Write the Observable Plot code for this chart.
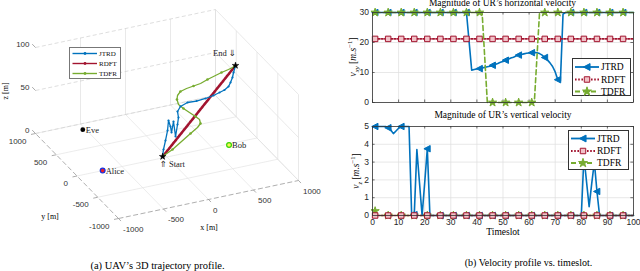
<!DOCTYPE html>
<html><head><meta charset="utf-8">
<script src="https://cdn.jsdelivr.net/npm/d3@7"></script>
<script src="https://cdn.jsdelivr.net/npm/@observablehq/plot@0.6"></script>
<style>
html,body{margin:0;padding:0;background:#fff;}
#wrap{position:relative;width:640px;height:271px;overflow:hidden;background:#fff;}
.t{position:absolute;white-space:nowrap;font-family:"Liberation Serif","DejaVu Serif",serif;color:#000;line-height:1;}
.t sub,.t sup{font-size:70%;line-height:0;}
.lg{position:absolute;background:#fff;border:0.8px solid #333;box-sizing:border-box;}
</style></head><body><div id="wrap"></div>
<script>
// ================= (b) velocity profile data =================
const timeslot = d3.range(1, 101);
const xTicks = [0,10,20,30,40,50,60,70,80,90,100];
const vxyTicks = [0,10,20,30];
const vzTicks = [0,1,2,3,4,5];
const seriesNames = ["JTRD","RDFT","TDFR"];

const vxyJTRD = [
 30,30,30,30,30,30,30,30,30,30,
 30,30,30,30,30,30,30,30,30,30,
 30,30,30,30,30,30,30,30,30,30,
 30,30,30,30,30,30,20.4,10.8,11.0,11.2,
 11.3,11.5,11.7,11.9,12.1,12.4,12.7,13.0,13.4,13.7,
 14.1,14.4,14.8,15.1,15.5,15.8,16.0,16.2,16.4,16.5,
 16.6,16.7,16.6,16.3,15.8,15.0,14.2,13.2,12.0,10.2,
 7.6,7.2,29.5,30,30,30,30,30,30,30,
 30,30,30,30,30,30,30,30,30,30,
 30,30,30,30,30,30,30,30,30,30];
const vxyRDFT = [
 21.2,21.2,21.2,21.2,21.2,21.2,21.2,21.2,21.2,21.2,
 21.2,21.2,21.2,21.2,21.2,21.2,21.2,21.2,21.2,21.2,
 21.2,21.2,21.2,21.2,21.2,21.2,21.2,21.2,21.2,21.2,
 21.2,21.2,21.2,21.2,21.2,21.2,21.2,21.2,21.2,21.2,
 21.2,21.2,21.2,21.2,21.2,21.2,21.2,21.2,21.2,21.2,
 21.2,21.2,21.2,21.2,21.2,21.2,21.2,21.2,21.2,21.2,
 21.2,21.2,21.2,21.2,21.2,21.2,21.2,21.2,21.2,21.2,
 21.2,21.2,21.2,21.2,21.2,21.2,21.2,21.2,21.2,21.2,
 21.2,21.2,21.2,21.2,21.2,21.2,21.2,21.2,21.2,21.2,
 21.2,21.2,21.2,21.2,21.2,21.2,21.2,21.2,21.2,21.2];
const vxyTDFR = [
 30,30,30,30,30,30,30,30,30,30,
 30,30,30,30,30,30,30,30,30,30,
 30,30,30,30,30,30,30,30,30,30,
 30,30,30,30,30,30,30,30,30,30,
 30,30,15,0,0,0,0,0,0,0,
 0,0,0,0,0,0,0,0,0,0,
 0,0,15,30,30,30,30,30,30,30,
 30,30,30,30,30,30,30,30,30,30,
 30,30,30,30,30,30,30,30,30,30,
 30,30,30,30,30,30,30,30,30,30];

const vzJTRD = [
 5,5,5,5,5,4.93,4.8,4.6,4.75,4.9,
 5,5,5,5,0.05,0.05,3.7,1.85,0,1.85,
 3.75,0,0,0,0,0,0,0,0,0,
 0,0,0,0,0,0,0,0,0,0,
 0,0,0,0,0,0,0,0,0,0,
 0,0,0,0,0,0,0,0,0,0,
 0,0,0,0,0,0,0,0,0,0,
 0,0,0,0,0,0,0,0,0,0,
 3.3,1.9,0.5,1.8,3.0,1.35,0,0,0,0,
 0,0,0,0,0,0,0,0,0,0];
const vzRDFT = [
 0,0,0,0,0,0,0,0,0,0, 0,0,0,0,0,0,0,0,0,0,
 0,0,0,0,0,0,0,0,0,0, 0,0,0,0,0,0,0,0,0,0,
 0,0,0,0,0,0,0,0,0,0, 0,0,0,0,0,0,0,0,0,0,
 0,0,0,0,0,0,0,0,0,0, 0,0,0,0,0,0,0,0,0,0,
 0,0,0,0,0,0,0,0,0,0, 0,0,0,0,0,0,0,0,0,0];
const vzTDFR = [
 0.25,0,0,0,0,0,0,0,0,0, 0,0,0,0,0,0,0,0,0,0,
 0,0,0,0,0,0,0,0,0,0, 0,0,0,0,0,0,0,0,0,0,
 0,0,0,0,0,0,0,0,0,0, 0,0,0,0,0,0,0,0,0,0,
 0,0,0,0,0,0,0,0,0,0, 0,0,0,0,0,0,0,0,0,0,
 0,0,0,0,0,0,0,0,0,0, 0,0,0,0,0,0,0,0,0,0];

// ================= (a) 3D trajectory data (metres) =================
const ticks3 = [-1000,-500,0,500,1000];
const zTicks3 = [0,50,100];
const startPt = [-500,-980,60];
const endPt = [990,496,60];
const nodeNames = ["Eve","Alice","Bob"];
const nodeX = [-530,-715,680];
const nodeY = [880,0,-20];
const nodeZ = [0,0,0];
const jtrdX = [-501,-429,-330,-221,-122,-158,-202,-85,-201,-75,-3,42,114,215,311,417,517,600,668,737,791,854,909,990];
const jtrdY = [-978,-846,-679,-492,-301,-426,-547,-341,-642,-416,-283,-162,-77,-28,-36,-24,2,35,64,115,185,275,368,496];
const jtrdZ = [60,60,60,60,60,60,60,60,60,60,60,60,60,60,60,60,60,60,60,60,60,60,60,60];
const rdftX = [-500,990];
const rdftY = [-980,496];
const rdftZ = [60,60];
const tdfrX = [-501,-346,-191,-36,82,146,173,163,143,124,114,145,186,249,332,419,506,606,702,798,889,972,990];
const tdfrY = [-978,-883,-764,-645,-557,-491,-409,-334,-231,-128,-30,74,150,216,249,269,289,339,378,417,447,481,496];
const tdfrZ = [60,60,60,60,60,60,60,60,60,60,60,60,60,60,60,60,60,60,60,60,60,60,60];

// ================= helpers =================
const W = document.getElementById("wrap");
const C = {JTRD:"#0072BD", RDFT:"#A2142F", TDFR:"#77AC30"};
function place(svg, left, top){ svg.style.position="absolute"; svg.style.left=left+"px"; svg.style.top=top+"px"; svg.style.overflow="visible"; W.appendChild(svg); }
function addText(html, cx, cy, size, extra){ const d=document.createElement("div"); d.className="t"; d.innerHTML=html;
  d.style.left=cx+"px"; d.style.top=cy+"px"; d.style.fontSize=size+"px";
  d.style.transform="translate(-50%,-50%)"+(extra?" "+extra:""); W.appendChild(d); return d; }
const triLeft = {draw(ctx, size){ const s=Math.sqrt(size/Math.PI); ctx.moveTo(-s,0); ctx.lineTo(s*0.85,-s*0.95); ctx.lineTo(s*0.85,s*0.95); ctx.closePath(); }};
const sty = {
  JTRD:{stroke:C.JTRD, dash:null, symbol:triLeft, r:3.4, fill:C.JTRD},
  RDFT:{stroke:C.RDFT, dash:"1.6,1.6", symbol:"square", r:3.1, fill:"#f0c2c8"},
  TDFR:{stroke:C.TDFR, dash:"5,3", symbol:"star", r:2.6, fill:C.TDFR}
};

// ================= (a) 3D plot =================
function P(x,y,z){ const u=(x+1000)/2000, v=(y+1000)/2000, w=z/100; return [118+180*u-83*v, 218-38*u-85*v-86*w]; }
function seg(a,b,kind){ const p=P(...a), q=P(...b); return {x1:p[0],y1:p[1],x2:q[0],y2:q[1],kind}; }
const segs = [];
for (const x of ticks3) if (x>-1000) segs.push(seg([x,-1000,0],[x,1000,0],"floor"));
for (const y of ticks3) if (y>-1000) segs.push(seg([-1000,y,0],[1000,y,0],"floor"));
for (const x of ticks3) if (x>-1000) segs.push(seg([x,1000,0],[x,1000,100],"wallv"));
for (const z of zTicks3) segs.push(seg([-1000,1000,z],[1000,1000,z],"wallh"));
for (const y of ticks3) segs.push(seg([1000,y,0],[1000,y,100],"wallv"));
for (const z of zTicks3) segs.push(seg([1000,-1000,z],[1000,1000,z],"wallh2"));
const axesSegs = [seg([-1000,-1000,0],[-1000,1000,0]), seg([-1000,-1000,0],[1000,-1000,0])];
const tickSegs = [
  ...ticks3.map(x=>seg([x,-1000,0],[x,-1060,0])),
  ...ticks3.map(y=>seg([-1000,y,0],[-1050,y,0])),
  ...zTicks3.map(z=>seg([-1000,1000,z],[-1000,1080,z]))];
const lbl = (p,text)=>({px:p[0],py:p[1],text});
const xLabels = ticks3.map(x=>lbl(P(x,-1000,0), String(x)));
const yLabels = ticks3.map(y=>lbl(P(-1000,y,0), String(y)));
const zLabels = zTicks3.map(z=>lbl(P(-1000,1000,z), String(z)));
const pts = (X,Y,Z)=>X.map((x,i)=>{const p=P(x,Y[i],Z[i]); return {px:p[0],py:p[1]};});
const jtrd3 = pts(jtrdX,jtrdY,jtrdZ), rdft3 = pts(rdftX,rdftY,rdftZ), tdfr3 = pts(tdfrX,tdfrY,tdfrZ);
const nodes = nodeNames.map((n,i)=>{const p=P(nodeX[i],nodeY[i],nodeZ[i]); return {px:p[0],py:p[1],text:n};});
const sp=P(...startPt), ep=P(...endPt);
const ends = [{px:sp[0],py:sp[1]},{px:ep[0],py:ep[1]}];
const tickFont = "Liberation Sans, Arial, sans-serif", serif = "Liberation Serif, DejaVu Sans, serif";

const left = Plot.plot({
  width:320, height:250, margin:0,
  style:{background:"transparent", overflow:"visible"},
  x:{domain:[0,320], range:[0,320], axis:null},
  y:{domain:[0,250], range:[0,250], axis:null},
  marks:[
    Plot.link(segs.filter(d=>d.kind==="floor"),{x1:"x1",y1:"y1",x2:"x2",y2:"y2",stroke:"#e4e4e4",strokeWidth:0.7}),
    Plot.link(segs.filter(d=>d.kind==="wallv"),{x1:"x1",y1:"y1",x2:"x2",y2:"y2",stroke:"#e0e0e0",strokeWidth:0.7}),
    Plot.link(segs.filter(d=>d.kind==="wallh"),{x1:"x1",y1:"y1",x2:"x2",y2:"y2",stroke:"#d0d0d0",strokeWidth:0.7,strokeDasharray:"4,2.5"}),
    Plot.link(segs.filter(d=>d.kind==="wallh2"),{x1:"x1",y1:"y1",x2:"x2",y2:"y2",stroke:"#e0e0e0",strokeWidth:0.7}),
    Plot.link(axesSegs,{x1:"x1",y1:"y1",x2:"x2",y2:"y2",stroke:"#9a9a9a",strokeWidth:0.8,strokeDasharray:"5,2.5"}),
    Plot.link(tickSegs,{x1:"x1",y1:"y1",x2:"x2",y2:"y2",stroke:"#888",strokeWidth:0.7}),
    Plot.text(zLabels,{x:"px",y:"py",text:"text",dx:-6,dy:-3,textAnchor:"end",fontSize:8,fontFamily:tickFont,fill:"#333"}),
    Plot.text(yLabels,{x:"px",y:"py",text:"text",dx:-9,dy:7.5,textAnchor:"end",fontSize:8,fontFamily:tickFont,fill:"#333"}),
    Plot.text(xLabels,{x:"px",y:"py",text:"text",dx:4.5,dy:10.5,textAnchor:"start",fontSize:8,fontFamily:tickFont,fill:"#333"}),
    Plot.line(rdft3,{x:"px",y:"py",stroke:C.RDFT,strokeWidth:2.6,strokeDasharray:"2.4,0.9"}),
    Plot.line(tdfr3,{x:"px",y:"py",stroke:C.TDFR,strokeWidth:1.3}),
    Plot.dot(tdfr3.filter((d,i)=>i%2===1),{x:"px",y:"py",r:1.3,fill:C.TDFR}),
    Plot.line(jtrd3,{x:"px",y:"py",stroke:C.JTRD,strokeWidth:1.3}),
    Plot.dot(jtrd3.slice(1,-1),{x:"px",y:"py",r:1.1,fill:C.JTRD}),
    Plot.dot(ends,{x:"px",y:"py",symbol:"star",r:2.1,fill:"#000",stroke:"#000",strokeWidth:0.5}),
    Plot.dot(nodes.slice(0,1),{x:"px",y:"py",r:2.4,fill:"#000"}),
    Plot.dot(nodes.slice(1,2),{x:"px",y:"py",r:2.4,fill:"#e8202a",stroke:"#1530e0",strokeWidth:1.2}),
    Plot.dot(nodes.slice(2,3),{x:"px",y:"py",r:2.4,fill:"#f6f65a",stroke:"#39d400",strokeWidth:1.2}),
    Plot.text(nodes,{x:"px",y:"py",text:"text",dx:3,dy:0.5,textAnchor:"start",fontSize:8.5,fontFamily:serif,fill:"#222"}),
    Plot.text([ends[1]],{x:"px",y:"py",text:()=>"End \u21D3",dx:-11,dy:-12,textAnchor:"middle",fontSize:8.5,fontFamily:serif,fill:"#222"}),
    Plot.text([ends[0]],{x:"px",y:"py",text:()=>"\u21D1 Start",dx:-3,dy:7.5,textAnchor:"start",fontSize:8.5,fontFamily:serif,fill:"#222"})
  ]
});
place(left, 0, 0);
addText("x [m]", 209, 228, 8);
addText("y [m]", 50, 217, 8);
addText("z [m]", 6, 91, 8, "rotate(-90deg)");
addText("(a) UAV’s 3D trajectory profile.", 157.5, 265.5, 10.5);

// left legend
(function(){
  const d=document.createElement("div"); d.className="lg";
  d.style.cssText="left:69px;top:47px;width:52px;height:32px;border-color:#777;";
  const rows=[["JTRD",C.JTRD],["RDFT",C.RDFT],["TDFR",C.TDFR]];
  let s=`<svg width="52" height="32" style="position:absolute;left:0;top:0">`;
  rows.forEach(([n,c],i)=>{const y=5.5+i*10;
    s+=`<line x1="2.5" x2="27" y1="${y}" y2="${y}" stroke="${c}" stroke-width="1.4"/><circle cx="15" cy="${y}" r="1.4" fill="${c}"/>`+
       `<text x="29" y="${y+2.4}" font-size="7" font-family="Liberation Serif,serif" fill="#111">${n}</text>`;});
  d.innerHTML=s+"</svg>"; W.appendChild(d);
})();

// ================= (b) velocity charts =================
function velChart(vals, yDomain, yTicks, opts){
  const rows = timeslot.map((t,i)=>({t, JTRD:vals.JTRD[i], RDFT:vals.RDFT[i], TDFR:vals.TDFR[i]}));
  const marks = rows.filter((d,i)=>i%5===0);
  const yMin=yDomain[0], yMax=yDomain[1], ty=(yMax-yMin)*0.028;
  const m = [
    Plot.gridX(xTicks,{stroke:"#dedede",strokeOpacity:1,strokeWidth:0.7}),
    Plot.gridY(yTicks,{stroke:"#dedede",strokeOpacity:1,strokeWidth:0.7}),
    Plot.ruleX(xTicks,{x:d=>d,y1:yMin,y2:yMin+ty,stroke:"#333",strokeWidth:0.7}),
    Plot.ruleX(xTicks,{x:d=>d,y1:yMax-ty,y2:yMax,stroke:"#333",strokeWidth:0.7}),
    Plot.ruleY(yTicks,{y:d=>d,x1:0,x2:1,stroke:"#333",strokeWidth:0.7}),
    Plot.ruleY(yTicks,{y:d=>d,x1:99,x2:100,stroke:"#333",strokeWidth:0.7}),
    Plot.axisY(yTicks,{tickSize:0,tickPadding:3.5,fontSize:8.5,label:null,fill:"#262626"})
  ];
  if (opts.showX) m.push(Plot.axisX(xTicks,{tickSize:0,tickPadding:3,fontSize:8.5,label:null,fill:"#262626"}));
  for (const k of opts.order){
    const s=sty[k];
    m.push(Plot.line(rows,{x:"t",y:k,stroke:s.stroke,strokeWidth:1.6,strokeDasharray:s.dash}));
    m.push(Plot.dot(marks,{x:"t",y:k,symbol:s.symbol,r:s.r,fill:s.fill,stroke:s.stroke,strokeWidth:1}));
  }
  m.push(Plot.frame({stroke:"#333",strokeWidth:0.8}));
  return Plot.plot({
    width:320, height:opts.height, marginLeft:52, marginRight:7, marginTop:12, marginBottom:opts.mb,
    style:{background:"transparent", overflow:"visible", fontFamily:tickFont},
    x:{domain:[0,100], axis:null, label:null},
    y:{domain:yDomain, axis:null, label:null},
    marks:m
  });
}
const top1 = velChart({JTRD:vxyJTRD,RDFT:vxyRDFT,TDFR:vxyTDFR},[0,30],vxyTicks,{height:112,mb:10,showX:false,order:["JTRD","RDFT","TDFR"]});
place(top1, 320, 0);
const bot1 = velChart({JTRD:vzJTRD,RDFT:vzRDFT,TDFR:vzTDFR},[0,5],vzTicks,{height:130,mb:29,showX:true,order:["TDFR","JTRD","RDFT"]});
place(bot1, 320, 114);

addText("Magnitude of UR’s horizontal velocity", 502.5, 4.3, 9.5);
addText("Magnitude of UR’s vertical velocity", 503, 116.3, 9.5);
addText("Timeslot", 503, 232.5, 9.5);
addText("(b) Velocity profile vs. timeslot.", 528.5, 262.5, 10);
addText("<i>v</i><sub><i>xy</i></sub> [<i>m.s</i><sup>−1</sup>]", 354, 57, 9.5, "rotate(-90deg)");
addText("<i>v</i><sub><i>z</i></sub> [<i>m.s</i><sup>−1</sup>]", 357, 171, 9.5, "rotate(-90deg)");

function legend(left, top, w, h, rowsY){
  const d=document.createElement("div"); d.className="lg";
  d.style.cssText=`left:${left}px;top:${top}px;width:${w}px;height:${h}px;`;
  let s=`<svg width="${w}" height="${h}" style="position:absolute;left:0;top:0">`;
  seriesNames.forEach((n,i)=>{const y=rowsY[i], st=sty[n], cx=14;
    s+=`<line x1="2" x2="26" y1="${y}" y2="${y}" stroke="${st.stroke}" stroke-width="1.8" ${st.dash?`stroke-dasharray="${st.dash}"`:""}/>`;
    let path;
    if (n==="JTRD") path=d3.symbol(triLeft, Math.PI*3.6*3.6)();
    else if (n==="RDFT") path=d3.symbol(d3.symbolSquare, Math.PI*3.1*3.1)();
    else path=d3.symbol(d3.symbolStar, Math.PI*2.8*2.8)();
    s+=`<path transform="translate(${cx},${y})" d="${path}" fill="${st.fill}" stroke="${st.stroke}" stroke-width="1"/>`;
    s+=`<text x="28" y="${y+3.3}" font-size="9.5" font-family="Liberation Serif,serif" fill="#000">${n}</text>`;});
  d.innerHTML=s+"</svg>"; W.appendChild(d);
}
legend(572, 58, 59, 38, [8,20.5,32.5]);
legend(568, 130, 61, 40, [7.5,20,32]);
</script></body></html>
